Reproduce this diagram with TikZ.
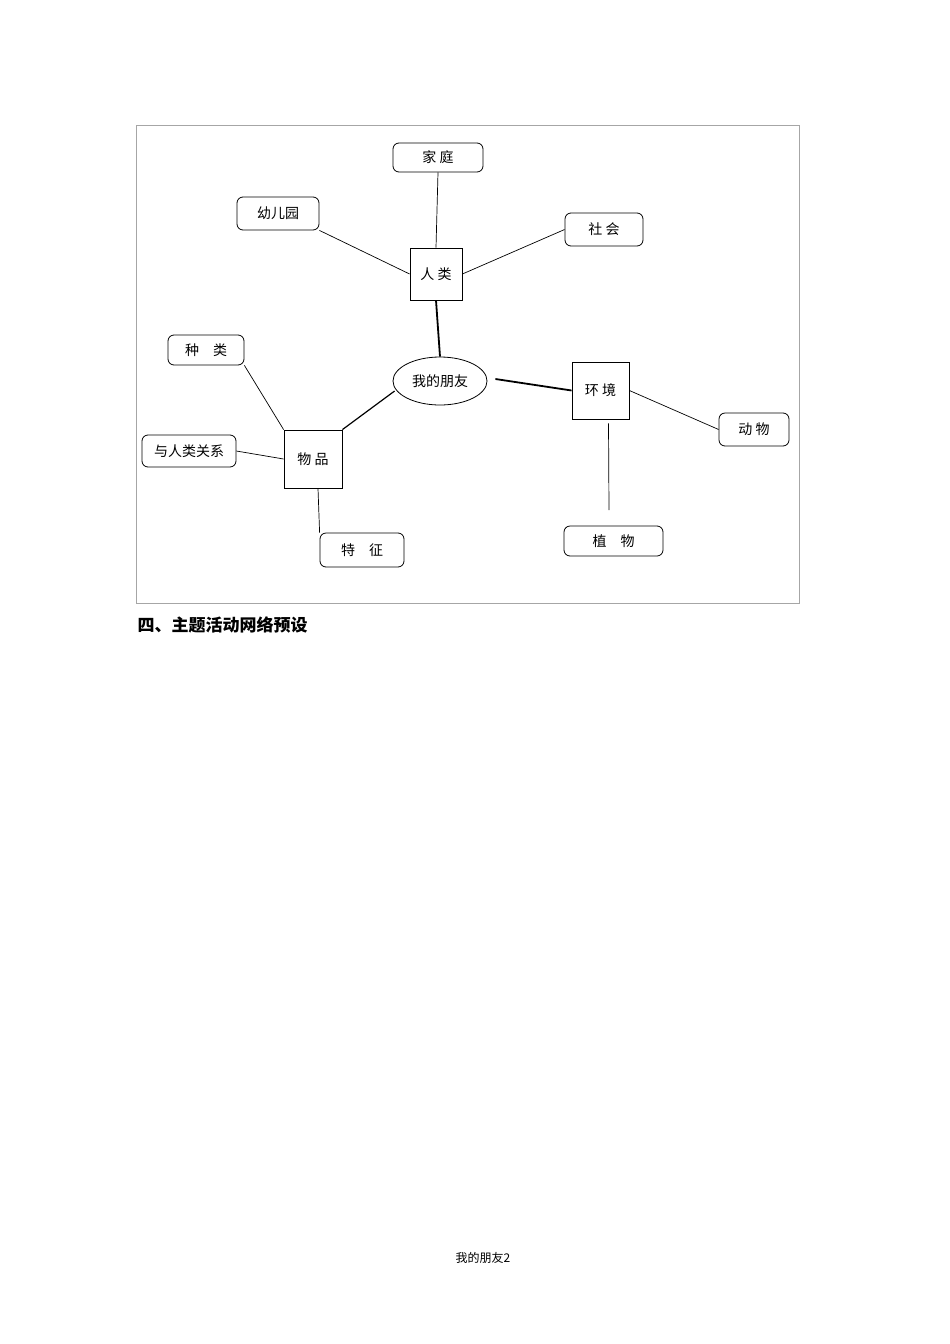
\documentclass[tikz,border=0pt]{standalone}
\usepackage{fontspec}
\setmainfont{Noto Sans CJK SC}
\usetikzlibrary{shapes.geometric}
\begin{document}
\begin{tikzpicture}[x=1pt,y=-1pt,
  rb/.style={draw,rounded corners=6pt,inner sep=0pt,font=\fontsize{14}{16}\selectfont,line width=0.8pt},
  sq/.style={draw,inner sep=0pt,font=\fontsize{14}{16}\selectfont,line width=0.8pt},
  ln/.style={line width=0.7pt},
  tk/.style={line width=1.8pt}]
\useasboundingbox (0,0) rectangle (950,1344);
\draw[gray!70] (136,125) rectangle (799,603);
\node[rb,minimum width=90pt,minimum height=29pt] (jt) at (438,157.5) {家\ 庭};
\node[rb,minimum width=82pt,minimum height=33pt] (yey) at (278,213.5) {幼儿园};
\node[rb,minimum width=78pt,minimum height=33pt] (sh) at (604,229.5) {社\ 会};
\node[sq,minimum width=52pt,minimum height=52pt] (rl) at (436,274) {人\ 类};
\node[draw,ellipse,line width=0.8pt,minimum width=94pt,minimum height=48pt,inner sep=0pt,font=\fontsize{14}{16}\selectfont] (c) at (440,381) {我的朋友};
\node[sq,minimum width=57pt,minimum height=57pt] (hj) at (600.5,390.5) {环\ 境};
\node[rb,minimum width=70pt,minimum height=33pt] (dw) at (754,429.5) {动\ 物};
\node[rb,minimum width=99pt,minimum height=30pt] (zw) at (613.5,541) {植\quad 物};
\coordinate (zwt) at (609,510);
\node[rb,minimum width=76pt,minimum height=30pt] (zl) at (206,350) {种\quad 类};
\node[rb,minimum width=94pt,minimum height=32pt] (gx) at (189,451) {与人类关系};
\node[sq,minimum width=58pt,minimum height=58pt] (wp) at (313,459) {物\ 品};
\node[rb,minimum width=84pt,minimum height=34pt] (tz) at (362,550) {特\quad 征};
\draw[ln] (jt.south) -- (rl.north);
\draw[ln] (yey.south east) -- (rl.west);
\draw[ln] (sh.west) -- (rl.east);
\draw[tk] (rl.south) -- (c.north);
\draw[tk] (c.east) ++(8,-2) coordinate (ce) -- (hj.west);
\draw[ln] (hj.east) -- (dw.west);
\draw[ln] (hj.south) ++(8,4) -- (zwt);
\draw[tk,line width=1.2pt] (c.west) ++(2,10) -- (wp.north east);
\draw[ln] (zl.south east) -- (wp.north west);
\draw[ln] (gx.east) -- (wp.west);
\draw[ln] (wp.south) ++(5,0) -- (tz.north west);
\node[anchor=west,font=\fontsize{17}{20}\selectfont\bfseries] (h) at (134,625) {四、主题活动网络预设};
\node[font=\fontsize{12}{14}\selectfont] (f) at (483,1258) {我的朋友2};
\end{tikzpicture}
\end{document}
